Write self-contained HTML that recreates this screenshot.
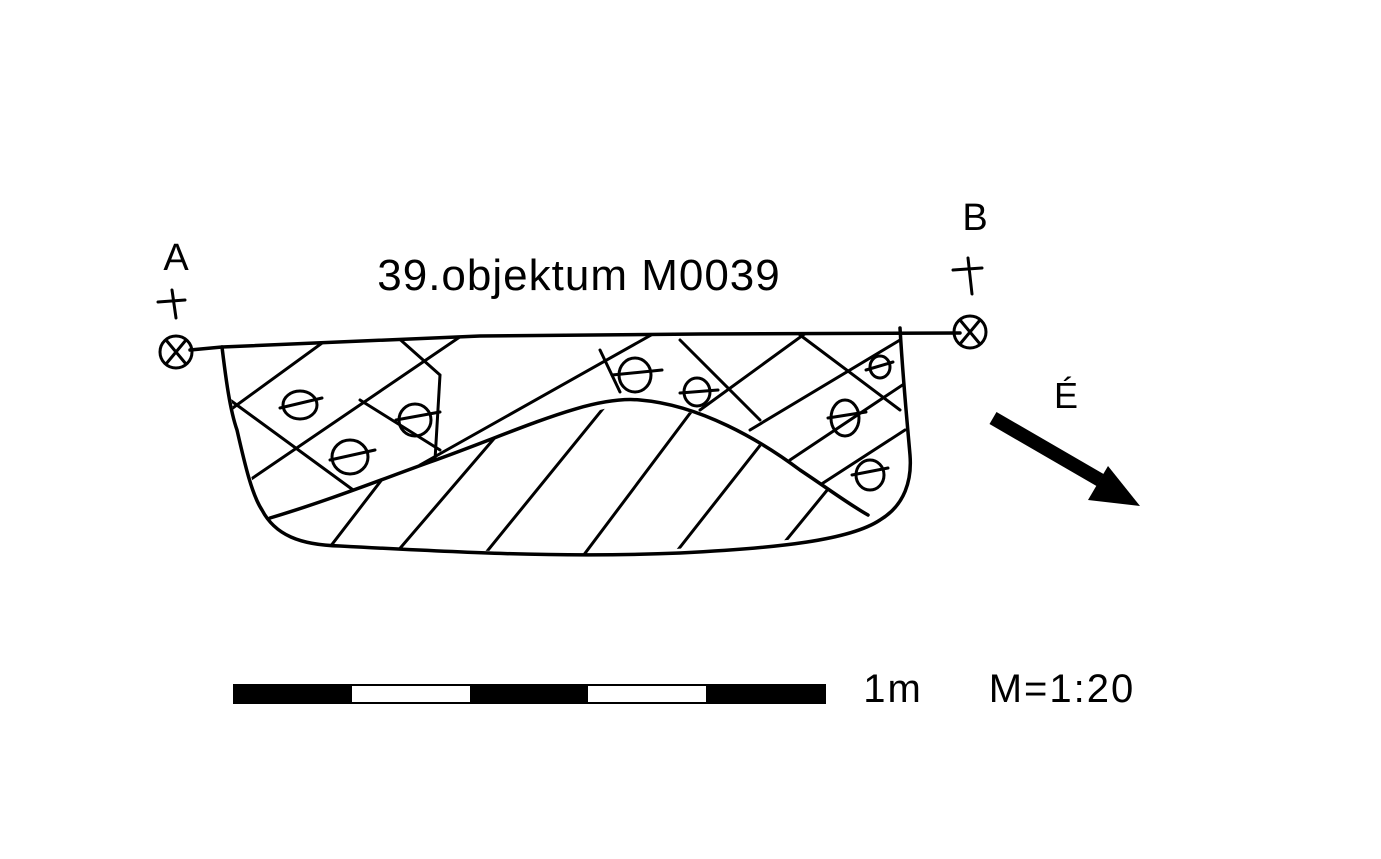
<!DOCTYPE html>
<html><head><meta charset="utf-8"><style>
html,body{margin:0;padding:0;background:#fff;}
svg{display:block}
text{font-family:"Liberation Sans",sans-serif;fill:#000}
</style></head><body>
<svg width="1381" height="859" viewBox="0 0 1381 859" xmlns="http://www.w3.org/2000/svg">
<defs>
<clipPath id="upper"><path d="M222,346 L480,336 L700,334 L900,332 L910,460 L900,500 L868,515 L800,470 L720,420 L640,400 L520,430 L420,465 L340,495 L270,518 L255,490 L235,420 Z"/></clipPath>
<clipPath id="dome"><path d="M270,518 L340,495 L420,465 L520,430 L640,400 L720,420 L800,470 L868,515 L850,535 L600,555 L330,545 L280,530 Z"/></clipPath>
</defs>
<g fill="none" stroke="#000" stroke-width="3.5" stroke-linecap="round" stroke-linejoin="round">
<path d="M190,350 L222,347 L480,336 L700,334 L960,333"/>
<path d="M222,347 C226,380 230,410 237,430 C245,465 252,495 262,510 C275,535 300,545 340,546 C450,552 560,558 680,553 C780,548 850,540 880,520 C905,505 912,480 910,455 C907,420 903,380 900,328"/>
<path d="M270,518 C330,500 380,480 430,462 C520,430 590,395 640,400 C700,405 760,440 800,470 C830,490 850,505 868,515"/>
<g clip-path="url(#upper)" stroke-width="3">
<path d="M230,400 L360,495 M395,335 L440,375 M440,375 L435,460 M600,350 L620,392 M680,340 L760,420 M800,335 L900,410"/>
<path d="M230,410 L340,330 M235,490 L470,330 M420,465 L660,330 M700,410 L810,330 M750,430 L900,340 M790,460 L910,380 M820,485 L905,430"/>
<path d="M360,400 L440,450"/>
</g>
<g clip-path="url(#dome)" stroke-width="3">
<path d="M320,560 L420,430 M390,560 L510,420 M480,560 L610,400 M580,560 L700,400 M670,560 L780,420 M770,560 L860,450"/>
</g>
<g stroke-width="3">
<ellipse cx="300" cy="405" rx="17" ry="14"/><path d="M280,408 L322,398"/>
<ellipse cx="350" cy="457" rx="18" ry="17"/><path d="M330,460 L375,450"/>
<ellipse cx="415" cy="420" rx="16" ry="16"/><path d="M396,420 L440,412"/>
<ellipse cx="635" cy="375" rx="16" ry="17"/><path d="M612,375 L662,370"/>
<ellipse cx="697" cy="392" rx="13" ry="14"/><path d="M680,393 L718,390"/>
<ellipse cx="880" cy="367" rx="10" ry="11"/><path d="M866,370 L893,362"/>
<ellipse cx="845" cy="418" rx="14" ry="18"/><path d="M828,418 L866,412"/>
<ellipse cx="870" cy="475" rx="14" ry="15"/><path d="M852,475 L888,468"/>
</g>
<circle cx="176" cy="352" r="16" stroke-width="3"/>
<path d="M166,340 L186,364 M186,340 L166,364" stroke-width="3"/>
<path d="M158,302 L185,300 M172,290 L176,318" stroke-width="3"/>
<circle cx="970" cy="332" r="16" stroke-width="3"/>
<path d="M960,320 L980,344 M980,320 L960,344" stroke-width="3"/>
<path d="M953,270 L982,268 M968,258 L972,294" stroke-width="3"/>
</g>
<path d="M993,418 L1100,480" stroke="#000" stroke-width="14"/>
<path d="M1140,506 L1088,500 L1108,466 Z" fill="#000"/>
<rect x="234" y="685" width="591" height="18" fill="#fff" stroke="#000" stroke-width="2"/>
<rect x="234" y="685" width="118" height="18" fill="#000"/>
<rect x="470" y="685" width="118" height="18" fill="#000"/>
<rect x="706" y="685" width="119" height="18" fill="#000"/>
<text x="176" y="270" font-size="38" text-anchor="middle">A</text>
<text x="975" y="230" font-size="38" text-anchor="middle">B</text>
<text x="579" y="290" font-size="44" letter-spacing="1" text-anchor="middle">39.objektum M0039</text>
<text x="1066" y="408" font-size="36" text-anchor="middle">É</text>
<text x="893" y="702" font-size="40" letter-spacing="2" text-anchor="middle">1m</text>
<text x="1062" y="702" font-size="40" letter-spacing="2" text-anchor="middle">M=1:20</text>
</svg>
</body></html>
